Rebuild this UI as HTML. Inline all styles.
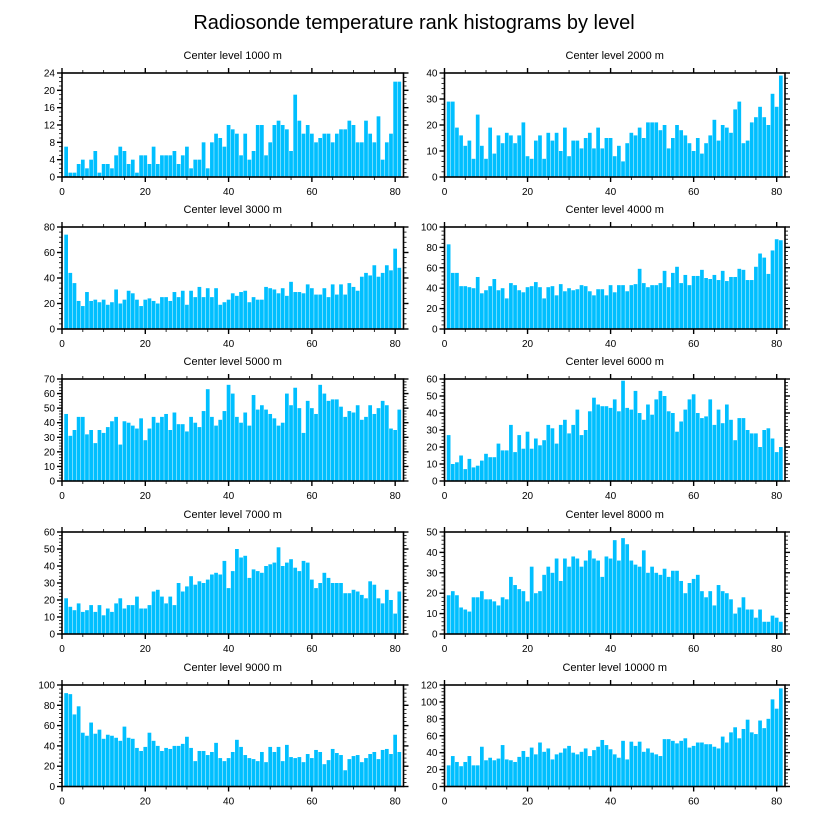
<!DOCTYPE html>
<html><head><meta charset="utf-8"><style>
body{margin:0;background:#fff;}
svg{display:block;font-family:"Liberation Sans",Arial,sans-serif;}
</style></head><body>
<svg id="chart" width="824" height="824" viewBox="0 0 824 824">
<text x="414" y="29" font-size="20" text-anchor="middle" fill="#000">Radiosonde temperature rank histograms by level</text>
</svg>
<script>
const levels=["1000","2000","3000","4000","5000","6000","7000","8000","9000","10000"];
const v1000=[7,1,1,3,4,2,4,6,1,3,3,2,5,7,6,3,4,1,5,5,3,7,3,5,5,5,6,3,5,7,2,4,4,8,2,8,10,9,7,12,11,10,5,10,4,6,12,12,5,8,12,13,12,11,6,19,13,10,12,10,8,9,10,10,8,10,11,11,13,12,8,8,13,10,8,14,4,8,10,22,22];
const v2000=[29,29,19,16,12,14,7,24,12,7,19,9,16,13,17,16,13,16,21,8,7,14,16,7,17,14,17,10,19,8,14,14,11,15,17,11,19,11,15,15,8,12,6,13,17,16,19,15,21,21,21,18,20,11,15,20,18,16,13,10,15,9,13,16,22,14,20,19,17,26,29,13,14,21,23,27,23,20,32,27,39];
const v3000=[74,44,36,22,18,29,22,23,21,23,19,21,31,20,23,30,28,23,18,23,24,22,20,25,25,22,29,25,30,19,30,25,33,25,32,25,32,19,21,23,28,26,29,30,21,25,23,23,33,32,31,28,32,26,37,29,29,28,35,32,27,27,32,25,35,27,35,27,36,33,30,41,44,42,50,41,44,50,46,63,48];
const v4000=[83,55,55,42,42,41,40,51,35,38,42,49,38,40,30,45,43,38,36,41,42,46,41,30,41,42,33,44,37,40,38,39,43,42,37,33,39,39,33,43,36,43,43,37,43,44,59,45,41,43,43,45,57,41,55,61,45,53,43,52,52,58,50,49,53,48,57,47,51,51,59,58,48,48,61,74,70,54,77,88,87];
const v5000=[46,31,35,44,44,32,35,26,35,33,37,41,44,25,41,40,38,36,43,28,36,44,40,44,46,35,47,39,39,34,44,40,37,48,63,44,38,42,48,66,60,44,40,47,38,59,49,52,49,46,43,38,40,60,52,64,50,33,55,50,46,66,60,55,56,56,51,44,48,47,52,42,44,52,46,50,55,52,36,35,49];
const v6000=[27,10,11,15,7,13,8,9,12,16,14,14,22,18,18,33,17,27,19,29,19,25,21,24,33,31,22,33,36,28,33,42,27,30,41,49,45,44,44,43,48,41,59,43,42,53,40,36,45,39,48,53,50,41,40,29,35,42,48,51,40,37,38,48,33,42,34,45,36,24,37,37,30,28,28,20,30,31,25,17,20];
const v7000=[21,16,14,18,13,14,17,13,17,11,15,13,18,21,15,17,17,22,15,15,17,25,26,22,18,22,17,30,25,28,34,29,31,30,32,35,36,35,43,27,37,50,45,46,33,38,37,36,40,41,42,51,40,42,44,39,37,43,42,32,27,30,36,33,30,30,30,24,24,26,25,23,21,31,29,21,18,26,20,12,25];
const v8000=[19,21,19,13,12,11,18,18,21,17,17,16,14,18,17,28,24,22,21,16,33,20,21,29,33,30,37,26,37,33,38,37,33,36,41,37,36,28,38,37,46,36,47,44,36,34,33,41,30,33,30,29,32,28,31,31,26,20,25,27,29,21,18,21,14,24,21,20,17,10,13,18,12,12,8,12,6,6,9,8,6];
const v9000=[92,91,71,79,53,50,63,52,56,47,51,50,48,45,59,48,47,38,35,39,53,45,40,35,38,37,40,40,42,49,38,25,35,35,31,34,43,28,25,28,34,46,39,31,28,27,25,34,24,39,34,39,25,41,29,28,29,24,32,28,36,34,22,26,37,33,31,16,27,30,31,24,28,32,34,27,36,37,32,51,34];
const v10000=[25,36,29,24,29,36,25,25,47,31,34,31,33,49,32,31,29,35,42,35,46,38,52,41,45,32,38,40,45,48,40,38,41,45,36,43,47,55,49,44,38,34,54,32,53,48,53,41,45,40,38,36,56,56,54,51,54,57,46,48,52,52,50,50,47,45,59,52,64,70,57,68,79,64,62,78,69,80,103,92,116];
const yMaxes=[24,40,80,100,70,60,60,50,100,120];
const yStep=[4,10,20,20,10,10,10,10,20,20];
const xTicks=[0,20,40,60,80];
const series=[v1000,v2000,v3000,v4000,v5000,v6000,v7000,v8000,v9000,v10000];

const NS="http://www.w3.org/2000/svg";
const svg=document.getElementById('chart');
function mk(tag,attrs,parent){const e=document.createElementNS(NS,tag);for(const k in attrs)e.setAttribute(k,attrs[k]);(parent||svg).appendChild(e);return e;}
const colL=[62,403.5], colR=[444.5,785];
const rows=[[73,177],[227,329],[379,481],[532,634],[685,786.5]];
const XMAX=82;
for(let p=0;p<10;p++){
  const c=p%2, r=Math.floor(p/2);
  const [x0,x1]=c?colR:colL; const [yT,yB]=rows[r];
  const g=mk('g',{});
  
  
  const xs=v=>x0+(x1-x0)*v/XMAX;
  const ys=v=>yB-(yB-yT)*v/yMaxes[p];
  const t=mk('text',{x:(x0+x1)/2,y:yT-14,'font-size':11,'text-anchor':'middle'},g);
  t.textContent='Center level '+levels[p]+' m';
  
  
  const vals=series[p];
  vals.forEach((v,i)=>{
    const b=mk('rect',{x:xs(i+0.5)+0.2,y:ys(v),width:Math.max(0.5,xs(1)-xs(0)-0.45),height:ys(0)-ys(v),fill:'#00bfff'},g);
    
    
  });
  const fr=mk('rect',{x:x0,y:yT,width:x1-x0,height:yB-yT,fill:'none',stroke:'#000','stroke-width':1.6},g);
  
  
  for(let v=0;v<=XMAX;v+=5){
    const major=v%20===0, L=major?5:3;
    mk('line',{x1:xs(v),x2:xs(v),y1:yB,y2:yB+L,stroke:'#000','stroke-width':major?1.4:0.8},g);
    mk('line',{x1:xs(v),x2:xs(v),y1:yT,y2:yT-L,stroke:'#000','stroke-width':major?1.4:0.8},g);
  }
  xTicks.forEach(v=>{
    const tl=mk('text',{x:xs(v),y:yB+18,'font-size':10,'text-anchor':'middle'},g);
    tl.textContent=v;
    
    
  });
  const ms=yStep[p]/(yStep[p]===4?4:5);
  for(let v=0;v<=yMaxes[p]+1e-6;v+=ms){
    const major=Math.abs(v/yStep[p]-Math.round(v/yStep[p]))<1e-6, L=major?5:3;
    mk('line',{x1:x0,x2:x0-L,y1:ys(v),y2:ys(v),stroke:'#000','stroke-width':major?1.4:0.8},g);
    mk('line',{x1:x1,x2:x1+L,y1:ys(v),y2:ys(v),stroke:'#000','stroke-width':major?1.4:0.8},g);
  }
  for(let v=0;v<=yMaxes[p];v+=yStep[p]){
    const tl=mk('text',{x:x0-7,y:ys(v)+3.5,'font-size':10,'text-anchor':'end'},g);
    tl.textContent=v;
    
    
  }
}
</script>
</body></html>
